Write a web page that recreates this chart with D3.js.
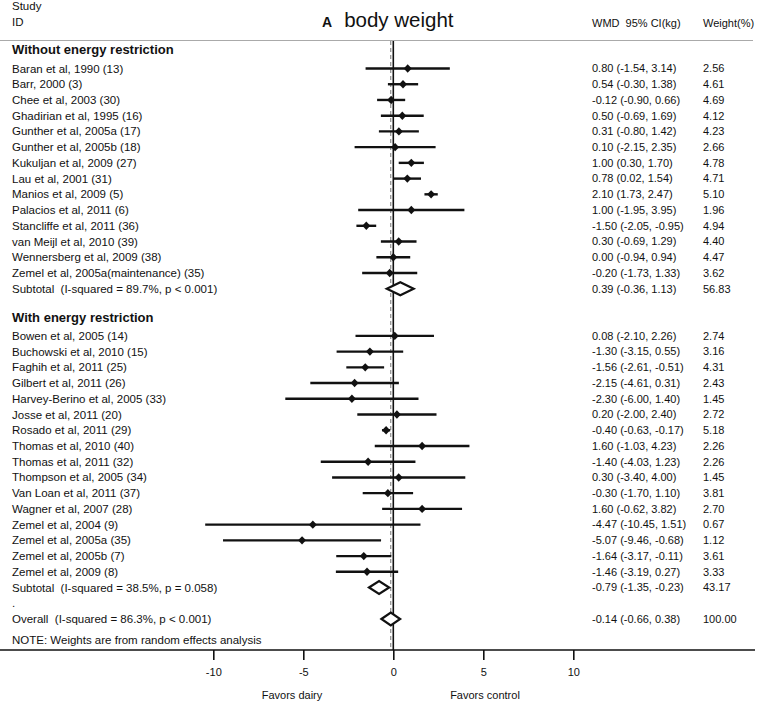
<!DOCTYPE html>
<html>
<head>
<meta charset="utf-8">
<script src="https://cdn.jsdelivr.net/npm/d3@7"></script>
<style>
  body { margin: 0; background: #fff; }
  svg { display: block; font-family: "Liberation Sans", Arial, sans-serif; }
</style>
</head>
<body>
<svg id="chart" width="760" height="702"></svg>
<script>
// without energy restriction
const studies1 = ['Baran et al, 1990 (13)', 'Barr, 2000 (3)', 'Chee et al, 2003 (30)',
  'Ghadirian et al, 1995 (16)', 'Gunther et al, 2005a (17)', 'Gunther et al, 2005b (18)',
  'Kukuljan et al, 2009 (27)', 'Lau et al, 2001 (31)', 'Manios et al, 2009 (5)',
  'Palacios et al, 2011 (6)', 'Stancliffe et al, 2011 (36)', 'van Meijl et al, 2010 (39)',
  'Wennersberg et al, 2009 (38)', 'Zemel et al, 2005a(maintenance) (35)'];
const wmd1 = [0.80, 0.54, -0.12, 0.50, 0.31, 0.10, 1.00, 0.78, 2.10, 1.00, -1.50, 0.30, 0.00, -0.20];
const lo1 = [-1.54, -0.30, -0.90, -0.69, -0.80, -2.15, 0.30, 0.02, 1.73, -1.95, -2.05, -0.69, -0.94, -1.73];
const hi1 = [3.14, 1.38, 0.66, 1.69, 1.42, 2.35, 1.70, 1.54, 2.47, 3.95, -0.95, 1.29, 0.94, 1.33];
const weight1 = [2.56, 4.61, 4.69, 4.12, 4.23, 2.66, 4.78, 4.71, 5.10, 1.96, 4.94, 4.40, 4.47, 3.62];

// with energy restriction
const studies2 = ['Bowen et al, 2005 (14)', 'Buchowski et al, 2010 (15)', 'Faghih et al, 2011 (25)',
  'Gilbert et al, 2011 (26)', 'Harvey-Berino et al, 2005 (33)', 'Josse et al, 2011 (20)',
  'Rosado et al, 2011 (29)', 'Thomas et al, 2010 (40)', 'Thomas et al, 2011 (32)',
  'Thompson et al, 2005 (34)', 'Van Loan et al, 2011 (37)', 'Wagner et al, 2007 (28)',
  'Zemel et al, 2004 (9)', 'Zemel et al, 2005a (35)', 'Zemel et al, 2005b (7)', 'Zemel et al, 2009 (8)'];
const wmd2 = [0.08, -1.30, -1.56, -2.15, -2.30, 0.20, -0.40, 1.60, -1.40, 0.30, -0.30, 1.60, -4.47, -5.07, -1.64, -1.46];
const lo2 = [-2.10, -3.15, -2.61, -4.61, -6.00, -2.00, -0.63, -1.03, -4.03, -3.40, -1.70, -0.62, -10.45, -9.46, -3.17, -3.19];
const hi2 = [2.26, 0.55, -0.51, 0.31, 1.40, 2.40, -0.17, 4.23, 1.23, 4.00, 1.10, 3.82, 1.51, -0.68, -0.11, 0.27];
const weight2 = [2.74, 3.16, 4.31, 2.43, 1.45, 2.72, 5.18, 2.26, 2.26, 1.45, 3.81, 2.70, 0.67, 1.12, 3.61, 3.33];

// subtotals and overall
const summaryLabels = ['Subtotal  (I-squared = 89.7%, p < 0.001)',
  'Subtotal  (I-squared = 38.5%, p = 0.058)', 'Overall  (I-squared = 86.3%, p < 0.001)'];
const summaryWmd = [0.39, -0.79, -0.14];
const summaryLo = [-0.36, -1.35, -0.66];
const summaryHi = [1.13, -0.23, 0.38];
const summaryWeight = [56.83, 43.17, 100.00];

const groupTitles = ['Without energy restriction', 'With energy restriction'];
const xTicks = [-10, -5, 0, 5, 10];

const svg = d3.select('#chart');
const ink = '#111';

const x = d3.scaleLinear().domain([-10, 10]).range([213.3, 573.3]);
const row = d3.scaleLinear().domain([0, 35]).range([68.5, 619]);

const fmt = v => v.toFixed(2);
const ciText = (e, l, h) => `${fmt(e)} (${fmt(l)}, ${fmt(h)})`;

// build rows
const rows = [];
rows.push({ i: -1, type: 'head', label: groupTitles[0] });
studies1.forEach((s, k) => rows.push({ i: k, type: 'study', label: s, e: wmd1[k], l: lo1[k], h: hi1[k], w: weight1[k] }));
rows.push({ i: 14, type: 'sum', label: summaryLabels[0], e: summaryWmd[0], l: summaryLo[0], h: summaryHi[0], w: summaryWeight[0] });
rows.push({ i: 16, type: 'head', label: groupTitles[1] });
studies2.forEach((s, k) => rows.push({ i: 17 + k, type: 'study', label: s, e: wmd2[k], l: lo2[k], h: hi2[k], w: weight2[k] }));
rows.push({ i: 33, type: 'sum', label: summaryLabels[1], e: summaryWmd[1], l: summaryLo[1], h: summaryHi[1], w: summaryWeight[1] });
rows.push({ i: 34, type: 'dot', label: '.' });
rows.push({ i: 35, type: 'sum', label: summaryLabels[2], e: summaryWmd[2], l: summaryLo[2], h: summaryHi[2], w: summaryWeight[2] });

const axisY = 650;

// header
const header = svg.append('g').attr('fill', ink).style('font-size', '11.5px');
header.append('text').attr('x', 12).attr('y', 10).text('Study');
header.append('text').attr('x', 12).attr('y', 26).text('ID');
header.append('text').attr('x', 592).attr('y', 27).style('font-size', '11px')
  .attr('xml:space', 'preserve').text('WMD  95% CI(kg)');
header.append('text').attr('x', 703).attr('y', 27).style('font-size', '11px').text('Weight(%)');
const title = header.append('text').attr('x', 322).attr('y', 27);
title.append('tspan').style('font-weight', 'bold').style('font-size', '14px').text('A');
title.append('tspan').attr('dx', 12).style('font-size', '20.5px').text('body weight');

svg.append('line')
  .attr('x1', 0).attr('x2', 753).attr('y1', 40.5).attr('y2', 40.5)
  .attr('stroke', '#aaa').attr('stroke-width', 1.2);

// reference lines
svg.append('line')
  .attr('x1', x(summaryWmd[2])).attr('x2', x(summaryWmd[2]))
  .attr('y1', 41).attr('y2', axisY)
  .attr('stroke', '#777').attr('stroke-width', 1).attr('stroke-dasharray', '4,3');
svg.append('line')
  .attr('x1', x(0)).attr('x2', x(0))
  .attr('y1', 41).attr('y2', axisY)
  .attr('stroke', ink).attr('stroke-width', 1.6);

// labels
svg.append('g').selectAll('text').data(rows).join('text')
  .attr('x', 12)
  .attr('y', d => row(d.i) + (d.type === 'head' ? -3 : 0))
  .attr('dy', '0.35em')
  .attr('fill', ink)
  .attr('xml:space', 'preserve')
  .style('font-size', d => d.type === 'head' ? '13px' : '11.5px')
  .style('font-weight', d => d.type === 'head' ? 'bold' : 'normal')
  .text(d => d.label);

const withValues = rows.filter(d => d.type === 'study' || d.type === 'sum');

svg.append('g').selectAll('text').data(withValues).join('text')
  .attr('x', 592).attr('y', d => row(d.i)).attr('dy', '0.35em')
  .attr('fill', ink).style('font-size', '11px')
  .text(d => ciText(d.e, d.l, d.h));

svg.append('g').selectAll('text').data(withValues).join('text')
  .attr('x', 703).attr('y', d => row(d.i)).attr('dy', '0.35em')
  .attr('fill', ink).style('font-size', '11px')
  .text(d => fmt(d.w));

// confidence intervals
const studyRows = rows.filter(d => d.type === 'study');
svg.append('g').selectAll('line').data(studyRows).join('line')
  .attr('x1', d => x(d.l)).attr('x2', d => x(d.h))
  .attr('y1', d => row(d.i)).attr('y2', d => row(d.i))
  .attr('stroke', ink).attr('stroke-width', 2.4);

// point estimates
const diamond = (cx, cy, hw, hh) => `M${cx - hw},${cy}L${cx},${cy - hh}L${cx + hw},${cy}L${cx},${cy + hh}Z`;
svg.append('g').selectAll('path').data(studyRows).join('path')
  .attr('d', d => diamond(x(d.e), row(d.i), 4, 4.2))
  .attr('fill', ink);

// pooled estimates
const sumRows = rows.filter(d => d.type === 'sum');
svg.append('g').selectAll('path').data(sumRows).join('path')
  .attr('d', d => {
    const y = row(d.i);
    return `M${x(d.l)},${y}L${x(d.e)},${y - 6.5}L${x(d.h)},${y}L${x(d.e)},${y + 6.5}Z`;
  })
  .attr('fill', '#fff').attr('stroke', ink).attr('stroke-width', 2.2)
  .attr('stroke-linejoin', 'miter');

svg.append('text').attr('x', 12).attr('y', 640).attr('dy', '0.35em')
  .attr('fill', ink).style('font-size', '11.5px')
  .text('NOTE: Weights are from random effects analysis');

// axis
const axis = svg.append('g').attr('transform', `translate(0,${axisY})`)
  .call(d3.axisBottom(x).tickValues(xTicks).tickSize(10).tickPadding(8).tickFormat(d => String(d)));
axis.select('.domain').remove();
axis.selectAll('.tick line').attr('stroke', ink).attr('stroke-width', 1.6);
axis.selectAll('.tick text').attr('fill', ink).style('font-size', '11px')
  .style('font-family', '"Liberation Sans", Arial, sans-serif');
svg.append('line')
  .attr('x1', 0).attr('x2', 755).attr('y1', axisY).attr('y2', axisY)
  .attr('stroke', ink).attr('stroke-width', 1.4);

svg.append('text').attr('x', 292).attr('y', 695).attr('dy', '0.35em')
  .attr('text-anchor', 'middle').attr('fill', ink).style('font-size', '11px').text('Favors dairy');
svg.append('text').attr('x', 485).attr('y', 695).attr('dy', '0.35em')
  .attr('text-anchor', 'middle').attr('fill', ink).style('font-size', '11px').text('Favors control');
</script>
</body>
</html>
